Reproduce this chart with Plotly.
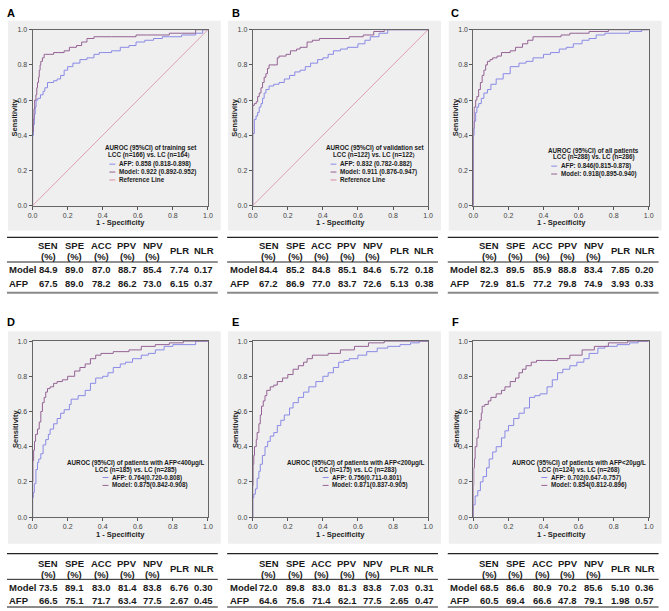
import plotly.graph_objects as go

W, H = 669, 611

# ROC curves: x = 1 - specificity, y = sensitivity
a_model_x = [0, 0, 0.004, 0.008, 0.012, 0.019, 0.024, 0.028, 0.034, 0.038, 0.043, 0.047, 0.056, 0.066, 0.075, 0.10, 0.12, 0.15, 0.18, 0.21, 0.25, 0.28, 0.31, 0.35, 0.385, 0.45, 0.59, 0.65, 0.78, 0.85, 0.93, 0.97, 1.0]
a_model_y = [0, 0.32, 0.42, 0.49, 0.55, 0.60, 0.63, 0.67, 0.70, 0.73, 0.77, 0.80, 0.82, 0.84, 0.86, 0.86, 0.86, 0.87, 0.87, 0.88, 0.90, 0.91, 0.93, 0.95, 0.96, 0.96, 0.96, 0.97, 0.97, 0.98, 0.98, 1.0, 1.0]
a_afp_x = [0, 0, 0.005, 0.01, 0.015, 0.02, 0.03, 0.045, 0.06, 0.07, 0.085, 0.10, 0.12, 0.14, 0.16, 0.18, 0.20, 0.23, 0.27, 0.31, 0.35, 0.38, 0.40, 0.45, 0.50, 0.55, 0.59, 0.64, 0.69, 0.74, 0.78, 0.85, 0.93, 0.97, 1.0]
a_afp_y = [0, 0.30, 0.40, 0.46, 0.52, 0.56, 0.60, 0.61, 0.63, 0.65, 0.67, 0.70, 0.70, 0.71, 0.72, 0.74, 0.77, 0.79, 0.81, 0.83, 0.84, 0.86, 0.87, 0.87, 0.88, 0.90, 0.91, 0.93, 0.94, 0.95, 0.96, 0.96, 0.97, 0.98, 1.0]

b_model_x = [0, 0, 0.009, 0.02, 0.028, 0.037, 0.047, 0.056, 0.065, 0.075, 0.084, 0.093, 0.103, 0.14, 0.15, 0.19, 0.215, 0.25, 0.27, 0.31, 0.34, 0.38, 0.40, 0.55, 0.63, 0.69, 0.75, 0.79, 1.0]
b_model_y = [0, 0.53, 0.57, 0.58, 0.59, 0.62, 0.64, 0.67, 0.70, 0.73, 0.75, 0.78, 0.80, 0.80, 0.84, 0.85, 0.86, 0.88, 0.89, 0.90, 0.93, 0.94, 0.95, 0.95, 0.96, 0.97, 0.99, 1.0, 1.0]
b_afp_x = [0, 0, 0.009, 0.019, 0.028, 0.037, 0.047, 0.056, 0.065, 0.075, 0.093, 0.12, 0.15, 0.18, 0.21, 0.24, 0.27, 0.30, 0.33, 0.37, 0.40, 0.43, 0.46, 0.50, 0.54, 0.60, 0.64, 0.67, 0.72, 0.77, 0.81, 1.0]
b_afp_y = [0, 0.34, 0.41, 0.49, 0.51, 0.53, 0.56, 0.58, 0.61, 0.64, 0.66, 0.68, 0.69, 0.70, 0.72, 0.74, 0.76, 0.77, 0.79, 0.81, 0.83, 0.84, 0.86, 0.88, 0.89, 0.90, 0.92, 0.94, 0.96, 0.98, 1.0, 1.0]

c_model_x = [0, 0, 0.004, 0.013, 0.02, 0.03, 0.04, 0.05, 0.06, 0.07, 0.08, 0.095, 0.11, 0.135, 0.16, 0.21, 0.24, 0.28, 0.31, 0.34, 0.39, 0.50, 0.55, 0.66, 0.77, 0.88, 1.0]
c_model_y = [0, 0.29, 0.44, 0.56, 0.60, 0.62, 0.66, 0.70, 0.74, 0.77, 0.80, 0.82, 0.83, 0.84, 0.85, 0.87, 0.88, 0.90, 0.92, 0.94, 0.96, 0.96, 0.97, 0.98, 0.99, 1.0, 1.0]
c_afp_x = [0, 0, 0.004, 0.013, 0.02, 0.03, 0.045, 0.06, 0.08, 0.10, 0.13, 0.17, 0.21, 0.26, 0.30, 0.34, 0.40, 0.44, 0.49, 0.53, 0.57, 0.62, 0.66, 0.70, 0.75, 0.82, 0.89, 0.96, 1.0]
c_afp_y = [0, 0.30, 0.40, 0.48, 0.53, 0.56, 0.58, 0.61, 0.64, 0.66, 0.69, 0.72, 0.75, 0.79, 0.81, 0.82, 0.84, 0.86, 0.87, 0.89, 0.90, 0.92, 0.94, 0.95, 0.97, 0.98, 0.98, 0.99, 1.0]

d_model_x = [0, 0.002, 0.006, 0.011, 0.017, 0.028, 0.038, 0.047, 0.056, 0.066, 0.075, 0.085, 0.10, 0.12, 0.14, 0.17, 0.20, 0.24, 0.27, 0.30, 0.33, 0.36, 0.39, 0.46, 0.55, 0.62, 0.70, 0.78, 0.86, 0.93, 1.0]
d_model_y = [0, 0.20, 0.32, 0.38, 0.43, 0.47, 0.50, 0.54, 0.60, 0.65, 0.68, 0.71, 0.73, 0.74, 0.76, 0.77, 0.78, 0.80, 0.83, 0.85, 0.87, 0.90, 0.92, 0.93, 0.94, 0.95, 0.97, 0.98, 0.99, 1.0, 1.0]
d_afp_x = [0, 0.004, 0.01, 0.019, 0.028, 0.035, 0.047, 0.06, 0.075, 0.09, 0.10, 0.12, 0.14, 0.16, 0.18, 0.21, 0.22, 0.26, 0.30, 0.33, 0.36, 0.40, 0.43, 0.46, 0.50, 0.53, 0.57, 0.62, 0.66, 0.70, 0.75, 0.80, 0.87, 0.93, 1.0]
d_afp_y = [0, 0.11, 0.14, 0.19, 0.27, 0.31, 0.33, 0.36, 0.41, 0.44, 0.47, 0.50, 0.53, 0.56, 0.59, 0.61, 0.64, 0.67, 0.69, 0.72, 0.76, 0.79, 0.80, 0.82, 0.85, 0.87, 0.88, 0.90, 0.92, 0.93, 0.95, 0.97, 0.98, 0.98, 1.0]

e_model_x = [0, 0.002, 0.006, 0.01, 0.02, 0.025, 0.035, 0.043, 0.05, 0.06, 0.07, 0.08, 0.10, 0.12, 0.14, 0.17, 0.20, 0.23, 0.26, 0.29, 0.31, 0.34, 0.36, 0.43, 0.50, 0.58, 0.66, 0.75, 0.87, 1.0]
e_model_y = [0, 0.18, 0.30, 0.35, 0.40, 0.44, 0.48, 0.53, 0.58, 0.63, 0.66, 0.69, 0.72, 0.74, 0.75, 0.77, 0.79, 0.81, 0.84, 0.86, 0.88, 0.90, 0.92, 0.92, 0.93, 0.95, 0.97, 0.99, 1.0, 1.0]
e_afp_x = [0, 0.006, 0.015, 0.025, 0.035, 0.043, 0.055, 0.07, 0.085, 0.10, 0.12, 0.14, 0.16, 0.18, 0.21, 0.23, 0.26, 0.29, 0.32, 0.36, 0.40, 0.43, 0.46, 0.49, 0.52, 0.55, 0.60, 0.65, 0.71, 0.77, 0.84, 0.90, 0.95, 1.0]
e_afp_y = [0, 0.11, 0.13, 0.16, 0.22, 0.26, 0.30, 0.35, 0.40, 0.43, 0.46, 0.48, 0.52, 0.55, 0.58, 0.62, 0.65, 0.68, 0.71, 0.74, 0.77, 0.80, 0.82, 0.85, 0.88, 0.89, 0.90, 0.92, 0.94, 0.96, 0.97, 0.98, 0.99, 1.0]

f_model_x = [0, 0.002, 0.006, 0.01, 0.02, 0.028, 0.036, 0.045, 0.05, 0.065, 0.085, 0.10, 0.13, 0.16, 0.18, 0.21, 0.24, 0.26, 0.28, 0.30, 0.33, 0.36, 0.41, 0.48, 0.55, 0.62, 0.69, 0.77, 0.88, 0.93, 1.0]
f_model_y = [0, 0.18, 0.28, 0.33, 0.40, 0.45, 0.50, 0.55, 0.59, 0.63, 0.64, 0.66, 0.68, 0.70, 0.72, 0.74, 0.77, 0.79, 0.82, 0.84, 0.86, 0.88, 0.89, 0.89, 0.90, 0.92, 0.95, 0.97, 0.99, 1.0, 1.0]
f_afp_x = [0, 0.01, 0.025, 0.04, 0.055, 0.075, 0.09, 0.11, 0.13, 0.16, 0.18, 0.20, 0.23, 0.26, 0.29, 0.32, 0.35, 0.38, 0.42, 0.45, 0.48, 0.51, 0.55, 0.59, 0.63, 0.66, 0.71, 0.75, 0.82, 0.89, 0.94, 1.0]
f_afp_y = [0, 0.07, 0.12, 0.15, 0.20, 0.23, 0.28, 0.33, 0.37, 0.40, 0.45, 0.49, 0.52, 0.56, 0.59, 0.62, 0.68, 0.69, 0.70, 0.74, 0.78, 0.82, 0.84, 0.86, 0.88, 0.90, 0.93, 0.96, 0.97, 0.98, 0.99, 1.0]

ref_x = [0, 1]
ref_y = [0, 1]

panels = ["A", "B", "C", "D", "E", "F"]
model_curves = [(a_model_x, a_model_y), (b_model_x, b_model_y), (c_model_x, c_model_y),
                (d_model_x, d_model_y), (e_model_x, e_model_y), (f_model_x, f_model_y)]
afp_curves = [(a_afp_x, a_afp_y), (b_afp_x, b_afp_y), (c_afp_x, c_afp_y),
              (d_afp_x, d_afp_y), (e_afp_x, e_afp_y), (f_afp_x, f_afp_y)]
has_ref = [True, True, False, False, False, False]

leg_titles = ["AUROC (95%CI) of training set", "AUROC (95%CI) of validation set",
              "AUROC (95%CI) of all patients",
              "AUROC (95%CI) of patients with AFP&lt;400μg/L",
              "AUROC (95%CI) of patients with AFP&lt;200μg/L",
              "AUROC (95%CI) of patients with AFP&lt;20μg/L"]
leg_cohorts = ["LCC (n=166) vs. LC (n=164）", "LCC (n=122) vs. LC (n=122）",
               "LCC (n=288) vs. LC (n=286)", "LCC (n=185) vs. LC (n=285)",
               "LCC (n=175) vs. LC (n=283)", "LCC (n=124) vs. LC (n=268)"]
afp_auc = ["AFP: 0.858 (0.818-0.898)", "AFP: 0.832 (0.782-0.882)", "AFP: 0.846(0.815-0.878)",
           "AFP: 0.764(0.720-0.808)", "AFP: 0.756(0.711-0.801)", "AFP: 0.702(0.647-0.757)"]
model_auc = ["Model: 0.922 (0.892-0.952)", "Model: 0.911 (0.876-0.947)", "Model: 0.918(0.895-0.940)",
             "Model: 0.875(0.842-0.908)", "Model: 0.871(0.837-0.905)", "Model: 0.854(0.812-0.896)"]

# table values: SEN, SPE, ACC, PPV, NPV, PLR, NLR
col_top = ["SEN", "SPE", "ACC", "PPV", "NPV"]
model_rows = [[84.9, 89.0, 87.0, 88.7, 85.4, 7.74, 0.17],
              [84.4, 85.2, 84.8, 85.1, 84.6, 5.72, 0.18],
              [82.3, 89.5, 85.9, 88.8, 83.4, 7.85, 0.20],
              [73.5, 89.1, 83.0, 81.4, 83.8, 6.76, 0.30],
              [72.0, 89.8, 83.0, 81.3, 83.8, 7.03, 0.31],
              [68.5, 86.6, 80.9, 70.2, 85.6, 5.10, 0.36]]
afp_rows = [[67.5, 89.0, 78.2, 86.2, 73.0, 6.15, 0.37],
            [67.2, 86.9, 77.0, 83.7, 72.6, 5.13, 0.38],
            [72.9, 81.5, 77.2, 79.8, 74.9, 3.93, 0.33],
            [66.5, 75.1, 71.7, 63.4, 77.5, 2.67, 0.45],
            [64.6, 75.6, 71.4, 62.1, 77.5, 2.65, 0.47],
            [60.5, 69.4, 66.6, 47.8, 79.1, 1.98, 0.57]]

AFP_C = "#8a8ae6"
MODEL_C = "#946294"
REF_C = "#d88ca0"
BG = "#efefef"
FONT = "Liberation Sans, Arial, sans-serif"


def px(x):
    return x / W


def py(y):
    return 1 - y / H


col_off = [0, 223.5, 447.5]
letter_x = [6, 234, 457]
rows = [
    dict(bg=(17, 229), plot=(26, 204), letter=9, xt=221, tl=236, h1=244, h2=255, sep=261, r1=269, r2=283, bl=292),
    dict(bg=(331, 546), plot=(341, 519), letter=322, xt=537, tl=556, h1=566, h2=577, sep=582, r1=590, r2=603, bl=610),
]
leg_y = [[146, 153, 162, 170, 178], [146, 153, 162, 170, 178], [149, 155, 164, 172],
         [464, 471, 479, 487], [464, 471, 479, 487], [464, 471, 479, 487]]
leg_cx = [148, 153, 150, 133, 133, 135]
leg_sample = [106, 107, 107, 99, 99, 97]
col_cx = [44, 71, 98, 124, 150, 177, 202]

fig = go.Figure()
shapes = []
annotations = []
layout = {}


def txt(x, y, text, size=6.3, anchor="center", color="#1a1a1a", angle=0):
    annotations.append(dict(x=px(x), y=py(y), xref="paper", yref="paper", text=text,
                            showarrow=False, xanchor=anchor, yanchor="middle", textangle=angle,
                            font=dict(family=FONT, size=size, color=color)))


for i, p in enumerate(panels):
    r = rows[i // 3]
    ox = col_off[i % 3]
    n = "" if i == 0 else str(i + 1)
    # grey panel background
    shapes.append(dict(type="rect", xref="paper", yref="paper", layer="below",
                       x0=px(ox + 3), x1=px(ox + 219), y0=py(r["bg"][1]), y1=py(r["bg"][0]),
                       fillcolor=BG, line=dict(width=0)))
    axis_common = dict(range=[0, 1], tickvals=[0, 0.2, 0.4, 0.6, 0.8, 1.0], tickformat=".1f",
                       ticks="outside", ticklen=3, tickcolor="#555", showgrid=False, zeroline=False,
                       showline=True, linecolor="#666", linewidth=1, mirror=True,
                       tickfont=dict(family=FONT, size=7, color="#444"), fixedrange=True)
    layout["xaxis" + n] = dict(axis_common, domain=[px(ox + 28), px(ox + 206)], anchor="y" + n)
    layout["yaxis" + n] = dict(axis_common, domain=[py(r["plot"][1]), py(r["plot"][0])], anchor="x" + n)

    ax, ay = afp_curves[i]
    mx, my = model_curves[i]
    fig.add_trace(go.Scatter(x=ax, y=ay, mode="lines", line=dict(color=AFP_C, width=1, shape="vh"),
                             xaxis="x" + n, yaxis="y" + n, cliponaxis=False, showlegend=False))
    fig.add_trace(go.Scatter(x=mx, y=my, mode="lines", line=dict(color=MODEL_C, width=1, shape="vh"),
                             xaxis="x" + n, yaxis="y" + n, cliponaxis=False, showlegend=False))
    if has_ref[i]:
        fig.add_trace(go.Scatter(x=ref_x, y=ref_y, mode="lines", line=dict(color=REF_C, width=0.8),
                                 xaxis="x" + n, yaxis="y" + n, cliponaxis=False, showlegend=False))

    # panel letter and axis titles
    txt(letter_x[i % 3], r["letter"], "<b>" + p + "</b>", size=11, color="#000")
    txt(ox + 10, (r["plot"][0] + r["plot"][1]) / 2, "<b>Sensitivity</b>", size=7.5, color="#222", angle=-90)
    txt(ox + 117, r["xt"], "<b>1 - Specificity</b>", size=7.5, color="#222")

    # legend block
    ly = leg_y[i]
    txt(ox + leg_cx[i], ly[0], "<b>" + leg_titles[i] + "</b>")
    txt(ox + leg_cx[i], ly[1], "<b>" + leg_cohorts[i] + "</b>")
    items = [(afp_auc[i], AFP_C), (model_auc[i], MODEL_C)]
    if has_ref[i]:
        items.append(("Reference Line", REF_C))
    for k, (label, c) in enumerate(items):
        yy = ly[2 + k]
        s0 = ox + leg_sample[i]
        shapes.append(dict(type="line", xref="paper", yref="paper", x0=px(s0), x1=px(s0 + 6),
                           y0=py(yy), y1=py(yy), line=dict(color=c, width=1)))
        txt(s0 + 7.5, yy, "<b>" + label + "</b>", anchor="left")

    # table
    for yy, col, wd in [(r["tl"], "#222", 1.2), (r["sep"], "#222", 1), (r["bl"], "#8a8a8a", 2)]:
        shapes.append(dict(type="line", xref="paper", yref="paper", x0=px(ox + 2), x1=px(ox + 216),
                           y0=py(yy), y1=py(yy), line=dict(color=col, width=wd)))
    for k, h in enumerate(col_top):
        txt(ox + col_cx[k], r["h1"], "<b>" + h + "</b>", size=9.5)
        txt(ox + col_cx[k], r["h2"], "<b>(%)</b>", size=9.5)
    txt(ox + col_cx[5], (r["h1"] + r["h2"]) / 2, "<b>PLR</b>", size=9.5)
    txt(ox + col_cx[6], (r["h1"] + r["h2"]) / 2, "<b>NLR</b>", size=9.5)
    for name, vals, yy in [("Model", model_rows[i], r["r1"]), ("AFP", afp_rows[i], r["r2"])]:
        txt(ox + 2.5, yy, "<b>" + name + "</b>", size=9.5, anchor="left")
        for k, v in enumerate(vals):
            s = f"{v:.1f}" if k < 5 else f"{v:.2f}"
            txt(ox + col_cx[k], yy, "<b>" + s + "</b>", size=9.5)

fig.update_layout(width=W, height=H, margin=dict(l=0, r=0, t=0, b=0),
                  paper_bgcolor="white", plot_bgcolor=BG, showlegend=False,
                  shapes=shapes, annotations=annotations, **layout)

fig.write_html("out.html", config={"displayModeBar": False},
               post_script="document.body.style.margin='0';document.body.style.overflow='hidden';")
